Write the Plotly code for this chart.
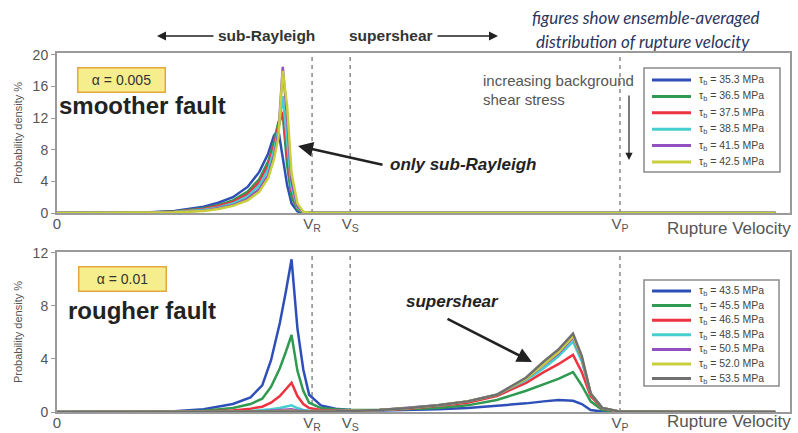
import plotly.graph_objects as go

W, H = 798, 433


def px(x):
    return x / W


def py(y):
    return 1 - y / H


# Rupture velocity axis, normalised by the shear-wave speed
V_R, V_S, V_P = 0.87, 1.0, 1.92
tick_vals = [0, V_R, V_S, V_P]
tick_text = ["0", "V<sub>R</sub>", "V<sub>S</sub>", "V<sub>P</sub>"]

# ---- smoother fault, alpha = 0.005 ----
smooth_v = [0, 0.30, 0.40, 0.50, 0.55, 0.60, 0.65, 0.69, 0.72, 0.74, 0.755,
            0.77, 0.785, 0.80, 0.82, 0.84, 0.87, 2.45]
smooth_35_3 = [0, 0.05, 0.25, 0.8, 1.3, 2.0, 3.3, 5.2, 7.5, 9.8, 10.5, 7.0, 3.5, 1.2, 0.2, 0, 0, 0]
smooth_36_5 = [0, 0.03, 0.2, 0.6, 1.0, 1.6, 2.7, 4.3, 6.5, 9.0, 11.5, 12.5, 6.0, 2.0, 0.4, 0.05, 0, 0]
smooth_37_5 = [0, 0.02, 0.15, 0.5, 0.9, 1.4, 2.4, 3.9, 6.0, 8.5, 11.0, 12.8, 7.5, 2.8, 0.6, 0.1, 0, 0]
smooth_38_5 = [0, 0.02, 0.12, 0.4, 0.7, 1.2, 2.1, 3.5, 5.5, 8.0, 10.5, 14.8, 9.0, 3.2, 0.7, 0.1, 0, 0]
smooth_41_5 = [0, 0.01, 0.1, 0.3, 0.6, 1.0, 1.8, 3.0, 4.8, 7.2, 10.0, 18.5, 12.0, 4.0, 0.9, 0.1, 0, 0]
smooth_42_5 = [0, 0.01, 0.08, 0.25, 0.5, 0.9, 1.6, 2.7, 4.4, 6.8, 9.5, 18.0, 13.5, 5.0, 1.2, 0.15, 0, 0]
smooth_series = [smooth_35_3, smooth_36_5, smooth_37_5, smooth_38_5, smooth_41_5, smooth_42_5]
smooth_stress = ["35.3", "36.5", "37.5", "38.5", "41.5", "42.5"]

# ---- rougher fault, alpha = 0.01 ----
rough_v = [0, 0.40, 0.50, 0.60, 0.66, 0.70, 0.73, 0.76, 0.78, 0.80, 0.82, 0.84, 0.86, 0.90,
           0.95, 1.00, 1.10, 1.20, 1.30, 1.40, 1.50, 1.60, 1.66, 1.71, 1.76, 1.79, 1.82,
           1.86, 1.92, 2.45]
rough_43_5 = [0, 0.05, 0.2, 0.6, 1.1, 2.0, 3.9, 6.7, 9.0, 11.5, 6.3, 3.2, 1.3, 0.5, 0.25, 0.15,
              0.12, 0.15, 0.2, 0.3, 0.45, 0.65, 0.8, 0.9, 0.85, 0.6, 0.15, 0.03, 0, 0]
rough_45_5 = [0, 0.03, 0.1, 0.3, 0.6, 1.0, 1.9, 3.3, 4.5, 5.8, 3.1, 1.6, 0.7, 0.3, 0.2, 0.15,
              0.15, 0.2, 0.3, 0.5, 0.9, 1.6, 2.1, 2.5, 3.0, 2.0, 0.8, 0.15, 0.02, 0]
rough_46_5 = [0, 0.02, 0.05, 0.12, 0.25, 0.4, 0.7, 1.2, 1.7, 2.2, 1.2, 0.6, 0.3, 0.15, 0.12, 0.12,
              0.15, 0.25, 0.45, 0.7, 1.2, 2.2, 3.0, 3.6, 4.3, 3.0, 1.2, 0.25, 0.03, 0]
rough_48_5 = [0, 0.01, 0.02, 0.04, 0.08, 0.12, 0.2, 0.3, 0.4, 0.5, 0.3, 0.15, 0.1, 0.08, 0.08, 0.1,
              0.15, 0.3, 0.5, 0.8, 1.3, 2.4, 3.3, 4.2, 5.3, 3.8, 1.4, 0.3, 0.03, 0]
rough_50_5 = [0, 0, 0.01, 0.02, 0.04, 0.06, 0.1, 0.15, 0.18, 0.2, 0.12, 0.08, 0.06, 0.05, 0.06, 0.08,
              0.15, 0.3, 0.5, 0.8, 1.3, 2.5, 3.5, 4.4, 5.6, 4.0, 1.4, 0.3, 0.03, 0]
rough_52_0 = [0, 0, 0, 0.01, 0.02, 0.03, 0.05, 0.07, 0.09, 0.1, 0.06, 0.04, 0.03, 0.03, 0.05, 0.08,
              0.15, 0.3, 0.5, 0.8, 1.3, 2.5, 3.6, 4.5, 5.7, 4.1, 1.4, 0.3, 0.03, 0]
rough_53_5 = [0, 0, 0, 0, 0.01, 0.02, 0.03, 0.04, 0.05, 0.05, 0.04, 0.03, 0.03, 0.03, 0.05, 0.08,
              0.15, 0.3, 0.5, 0.8, 1.3, 2.6, 3.8, 4.7, 5.9, 4.2, 1.4, 0.3, 0.03, 0]
rough_series = [rough_43_5, rough_45_5, rough_46_5, rough_48_5, rough_50_5, rough_52_0, rough_53_5]
rough_stress = ["43.5", "45.5", "46.5", "48.5", "50.5", "52.0", "53.5"]

colors = ["#2f4fb8", "#2f9a50", "#ee3340", "#45cfd0", "#9350c0", "#c9cf3a", "#707070"]

fig = go.Figure()

for vals, stress, col in zip(smooth_series, smooth_stress, colors):
    fig.add_trace(go.Scatter(x=smooth_v, y=vals, mode="lines", xaxis="x", yaxis="y",
                             name=f"τ<sub>b</sub> = {stress} MPa",
                             line=dict(color=col, width=2.5), showlegend=False))

for vals, stress, col in zip(rough_series, rough_stress, colors):
    fig.add_trace(go.Scatter(x=rough_v, y=vals, mode="lines", xaxis="x2", yaxis="y2",
                             name=f"τ<sub>b</sub> = {stress} MPa",
                             line=dict(color=col, width=2.5), showlegend=False))

AX = "#9a9a9a"
TXT = "#555555"
FONT = "Liberation Sans, Arial, sans-serif"
x_dom = [px(57), px(790)]

xaxis_common = dict(domain=x_dom, range=[0, 2.5], tickvals=tick_vals, ticktext=tick_text,
                    ticks="", showgrid=False, zeroline=False, showline=True, linecolor=AX,
                    linewidth=2, mirror=True, ticklabelstandoff=-4,
                    tickfont=dict(size=15, color=TXT, family=FONT))
yaxis_common = dict(showgrid=False, zeroline=False, showline=True, linecolor=AX, linewidth=2,
                    mirror=True, ticks="outside", ticklen=4, tickcolor=AX,
                    tickfont=dict(size=14, color=TXT, family=FONT),
                    title=dict(text="Probability density %", font=dict(size=11, color=TXT, family=FONT),
                               standoff=8))

fig.update_layout(
    width=W, height=H, margin=dict(l=0, r=0, t=0, b=0, autoexpand=False),
    paper_bgcolor="white", plot_bgcolor="white", showlegend=False,
    xaxis=dict(**xaxis_common, anchor="y"),
    yaxis=dict(**yaxis_common, domain=[py(213), py(53)], range=[0, 20.25],
               tickvals=[0, 4, 8, 12, 16, 20], anchor="x"),
    xaxis2=dict(**xaxis_common, anchor="y2"),
    yaxis2=dict(**yaxis_common, domain=[py(412), py(252)], range=[0, 12.05],
                tickvals=[0, 4, 8, 12], anchor="x2"),
)

# wave-speed markers
for xa, ya in [("x", "y"), ("x2", "y2")]:
    for v in [V_R, V_S, V_P]:
        fig.add_shape(type="line", xref=xa, yref=f"{ya} domain", x0=v, x1=v, y0=0, y1=1,
                      line=dict(color="#8a8a8a", width=1.5, dash="4px,4px"), layer="below")

ann = []


def text(x, y, s, size, color="#333333", family=FONT, xanchor="center", **kw):
    ann.append(dict(x=px(x), y=py(y), xref="paper", yref="paper", text=s, showarrow=False,
                    xanchor=xanchor, yanchor="middle", font=dict(size=size, color=color, family=family), **kw))


def arrow(x0, y0, x1, y1, width=1.5, color="#222222"):
    ann.append(dict(x=px(x1), y=py(y1), xref="paper", yref="paper", ax=x0 - x1, ay=y0 - y1,
                    axref="pixel", ayref="pixel", text="", showarrow=True, arrowhead=2,
                    arrowsize=1.2, arrowwidth=width, arrowcolor=color))


# header
text(266, 36, "<b>sub-Rayleigh</b>", 15.5)
arrow(215, 36, 157, 36)
text(391, 36, "<b>supershear</b>", 15.5)
arrow(436, 36, 498, 36)
text(646, 17, "<i>figures show ensemble-averaged</i>", 17, color="#2a3560", family="Lato, sans-serif")
text(643, 42, "<i>distribution of rupture velocity</i>", 17, color="#2a3560", family="Lato, sans-serif")

# smoother fault panel
alpha_box = dict(bgcolor="#f6ee8c", bordercolor="#e3a640", borderwidth=1.5, borderpad=2,
                 width=82, height=19)
text(121, 80, "α = 0.005", 14, **alpha_box)
text(57, 105, "<b>smoother fault</b>", 24, color="#222222", xanchor="left")
text(388, 164, "<b><i>only sub-Rayleigh</i></b>", 17, color="#222222", xanchor="left")
arrow(384, 165, 298, 146, width=2.5)
text(481, 80, "increasing background", 15, color=TXT, xanchor="left")
text(481, 100, "shear stress", 15, color=TXT, xanchor="left")
arrow(629, 94, 629, 160, width=1.2)
text(729, 228, "Rupture Velocity", 17, color=TXT)

# rougher fault panel
text(122, 279, "α = 0.01", 14, **alpha_box)
text(66, 310, "<b>rougher fault</b>", 24, color="#222222", xanchor="left")
text(404, 301, "<b><i>supershear</i></b>", 17, color="#222222", xanchor="left")
arrow(446, 318, 532, 362, width=2.5)
text(729, 421, "Rupture Velocity", 17, color=TXT)


# legend boxes
def legend_box(left, top, right, bottom, first_y, step, stresses):
    fig.add_shape(type="rect", xref="paper", yref="paper", x0=px(left), x1=px(right),
                  y0=py(bottom), y1=py(top), line=dict(color="#8a8a8a", width=1.5),
                  fillcolor="white")
    for i, (stress, col) in enumerate(zip(stresses, colors)):
        yy = first_y + i * step
        fig.add_shape(type="line", xref="paper", yref="paper", x0=px(652), x1=px(691),
                      y0=py(yy), y1=py(yy), line=dict(color=col, width=3))
        text(697, yy, f"τ<sub>b</sub> = {stress} MPa", 10.5, color="#444444", xanchor="left")


legend_box(644, 68, 780, 172, 80, 16.4, smooth_stress)
legend_box(644, 280, 779, 386, 291, 14.6, rough_stress)

fig.update_layout(annotations=ann)
fig.write_html("out.html")
